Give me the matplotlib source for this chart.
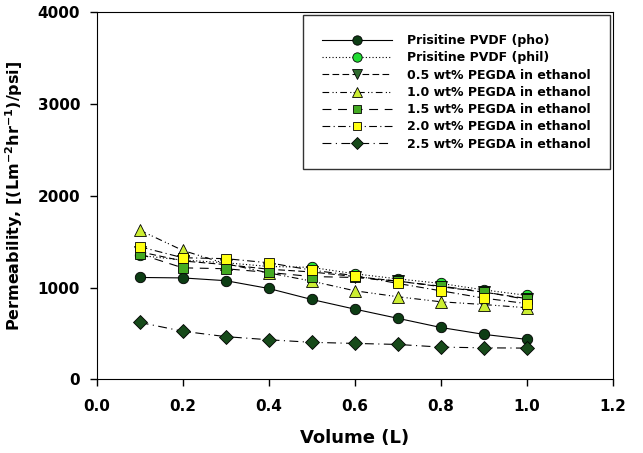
import matplotlib
matplotlib.use('Agg')
import matplotlib.pyplot as plt
from matplotlib.ticker import MultipleLocator

plt.rcParams['font.family'] = ['DejaVu Sans']
plt.rcParams['font.weight'] = 'bold'
plt.rcParams['mathtext.fontset'] = 'dejavusans'

volume = [0.1, 0.2, 0.3, 0.4, 0.5, 0.6, 0.7, 0.8, 0.9, 1.0]

pvdf_pho = [1110, 1105, 1075, 990, 870, 765, 665, 565, 490, 435]
pvdf_phil = [1350, 1300, 1270, 1230, 1220, 1150, 1095, 1045, 975, 915]
pegda_05 = [1390, 1290, 1250, 1200, 1170, 1120, 1070, 1010, 950, 880]
pegda_10 = [1625, 1405, 1260, 1160, 1070, 965, 900, 845, 815, 780]
pegda_15 = [1365, 1215, 1205, 1165, 1120, 1110, 1070, 1015, 955, 870]
pegda_20 = [1445, 1325, 1315, 1270, 1190, 1130, 1045, 965, 885, 825]
pegda_25 = [620, 524, 465, 431, 403, 391, 380, 351, 343, 340]

labels = ['Prisitine PVDF (pho)', 'Prisitine PVDF (phil)',
          '0.5 wt% PEGDA in ethanol', '1.0 wt% PEGDA in ethanol',
          '1.5 wt% PEGDA in ethanol', '2.0 wt% PEGDA in ethanol',
          '2.5 wt% PEGDA in ethanol']
series = [pvdf_pho, pvdf_phil, pegda_05, pegda_10, pegda_15, pegda_20, pegda_25]

markers = ['o', 'o', 'v', '^', 's', 's', 'D']
colors = ['#0d3d14', '#22dd33', '#2e6b2e', '#ccee33', '#44aa22', '#ffff11', '#174a1a']
sizes = [7.5, 7.5, 8, 8.5, 7, 7, 7]
styles = ['-', (0, (1, 2)), (0, (6, 3)), (0, (6, 3, 1, 2, 1, 3)),
          (0, (8, 6)), (0, (7, 3, 1, 3)), (0, (8, 4, 1, 4))]

fig = plt.figure(figsize=(6.43, 4.53), dpi=100)
ax = fig.add_axes([0.1504, 0.1627, 0.8025, 0.8101])

for vals, lab, mk, col, ms, ls in zip(series, labels, markers, colors, sizes, styles):
    ax.plot(volume, vals, linestyle=ls, color='black', linewidth=0.8,
            marker=mk, markersize=ms, markerfacecolor=col,
            markeredgecolor='black', markeredgewidth=0.6, label=lab)

ax.set_xlim(0, 1.2)
ax.set_ylim(0, 4000)
ax.xaxis.set_major_locator(MultipleLocator(0.2))
ax.yaxis.set_major_locator(MultipleLocator(1000))
ax.xaxis.set_major_formatter(plt.FuncFormatter(lambda v, p: '%.1f' % v))
ax.tick_params(direction='out', length=5, width=1, labelsize=11)
ax.tick_params(axis='x', pad=9)
ax.tick_params(axis='y', pad=7)
for lab in ax.get_xticklabels() + ax.get_yticklabels():
    lab.set_fontweight('bold')

ax.set_xlabel('Volume (L)', fontsize=13, fontweight='bold', labelpad=11)
ax.set_ylabel(r'Permeability, [(Lm$^{\mathbf{-2}}$hr$^{\mathbf{-1}}$)/psi]',
              fontsize=11.5, fontweight='bold', labelpad=9)

leg = ax.legend(loc='upper right', fontsize=9, handlelength=5.6,
                labelspacing=0.34, borderaxespad=0.25, fancybox=False,
                edgecolor='black', borderpad=1.5, handletextpad=1.2,
                markerscale=0.9)
leg.get_frame().set_linewidth(1.0)
for t in leg.get_texts():
    t.set_fontweight('bold')

plt.savefig('out.png', dpi=100)
